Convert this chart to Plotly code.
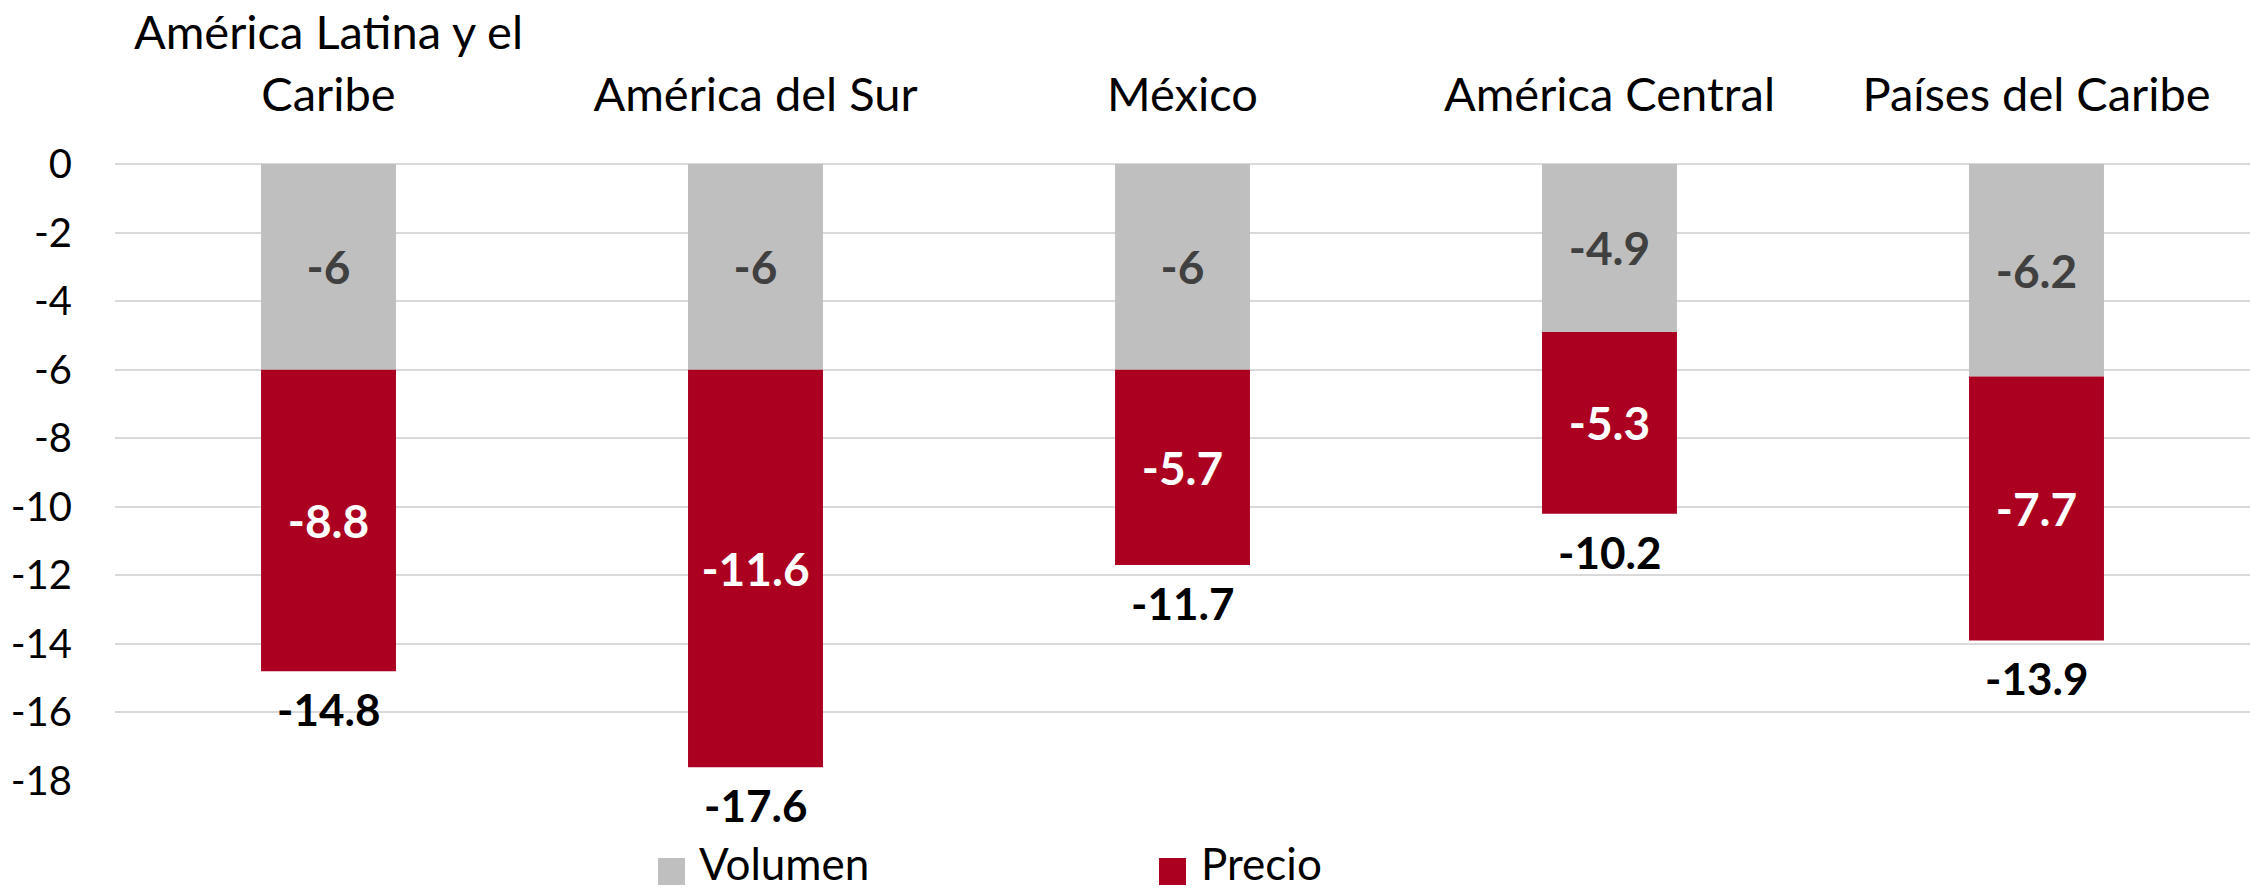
import plotly.graph_objects as go

# ---- data ----
categories = ["América Latina y el<br>Caribe", "América del Sur", "México",
              "América Central", "Países del Caribe"]
volumen = [-6, -6, -6, -4.9, -6.2]
precio = [-8.8, -11.6, -5.7, -5.3, -7.7]
total = [-14.8, -17.6, -11.7, -10.2, -13.9]
series_names = ["Volumen", "Precio"]
y_ticks = [0, -2, -4, -6, -8, -10, -12, -14, -16, -18]

# ---- style ----
W, H = 2255, 890
ML, MR, MT, MB = 115, 5, 164, 109
FONT = "Lato"
GRAY = "#BFBFBF"
RED = "#AB0020"
PW = W - ML - MR
PH = H - MT - MB


def px_x(p):
    return (p - ML) / PW


def px_y(p):
    return (H - MB - p) / PH


fig = go.Figure()
fig.add_trace(go.Bar(
    x=categories, y=volumen, name=series_names[0],
    marker=dict(color=GRAY, line=dict(width=0)),
    text=[f"<b>{v:g}</b>" for v in volumen],
    textposition="inside", insidetextanchor="middle", textangle=0,
    constraintext="none",
    textfont=dict(family=FONT, size=46, color="#404040"),
    showlegend=False,
))
fig.add_trace(go.Bar(
    x=categories, y=precio, name=series_names[1],
    marker=dict(color=RED, line=dict(width=0)),
    text=[f"<b>{v:g}</b>" for v in precio],
    textposition="inside", insidetextanchor="middle", textangle=0,
    constraintext="none",
    textfont=dict(family=FONT, size=46, color="white"),
    showlegend=False,
))

annotations = []
for c, t in zip(categories, total):
    annotations.append(dict(
        x=c, y=t, xref="x", yref="y", text=f"<b>{t:g}</b>", showarrow=False,
        yshift=-38, yanchor="middle",
        font=dict(family=FONT, size=44, color="black"),
    ))

# custom legend (large squares as in the reference)
shapes = []
legend_items = [(series_names[0], GRAY, 658, 698), (series_names[1], RED, 1159, 1200)]
for name, col, sx, tx in legend_items:
    shapes.append(dict(type="rect", xref="paper", yref="paper",
                       x0=px_x(sx), x1=px_x(sx + 27), y0=px_y(885), y1=px_y(858),
                       fillcolor=col, line=dict(width=0)))
    annotations.append(dict(x=px_x(tx), y=px_y(890), xref="paper", yref="paper",
                            text=name, showarrow=False, xanchor="left", yanchor="bottom",
                            borderpad=0,
                            font=dict(family=FONT, size=44, color="black")))

fig.update_layout(
    width=W, height=H,
    margin=dict(l=ML, r=MR, t=MT, b=MB, pad=0, autoexpand=False),
    barmode="relative", bargap=0.684,
    plot_bgcolor="white", paper_bgcolor="white",
    font=dict(family=FONT, color="black"),
    showlegend=False,
    annotations=annotations, shapes=shapes,
    xaxis=dict(side="top", showgrid=False, showline=False, zeroline=False,
               automargin=False,
               ticks="", tickfont=dict(family=FONT, size=47, color="black"),
               ticklabelstandoff=43),
    yaxis=dict(range=[-18, 0], tickvals=y_ticks, ticktext=[f"{v}" for v in y_ticks],
               automargin=False,
               showgrid=True, gridcolor="#D9D9D9", gridwidth=2,
               zeroline=True, zerolinecolor="#D9D9D9", zerolinewidth=2,
               showline=False, ticks="",
               tickfont=dict(family=FONT, size=40, color="black"),
               ticklabelstandoff=42),
)

fig.write_html("out.html", config={"displayModeBar": False},
               post_script="document.body.style.margin='0';document.body.style.overflow='hidden';")
